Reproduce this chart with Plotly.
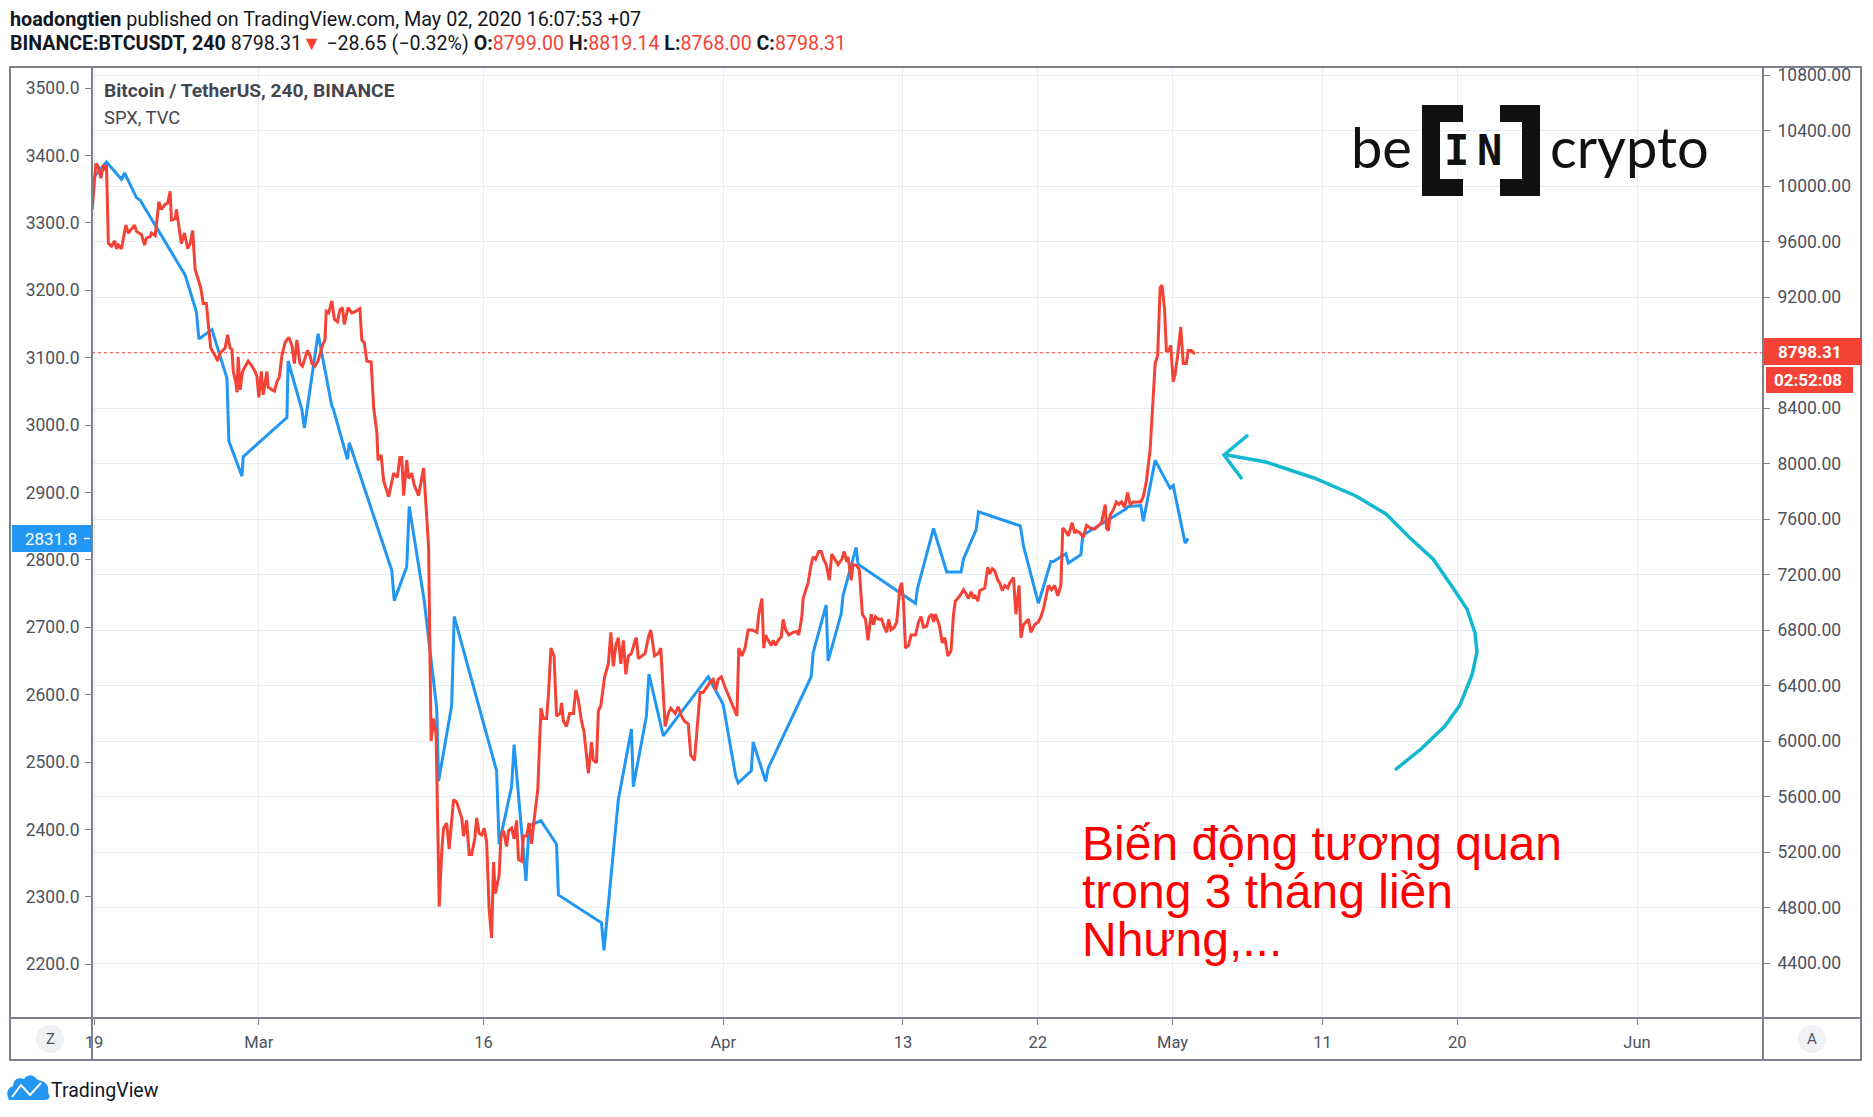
import plotly.graph_objects as go

W, H = 1873, 1117
ML, MR, MT, MB = 92, 110, 67, 99
PW, PH = W - ML - MR, H - MT - MB

# ---------------- data ----------------
btc_t = ["02-18 21", "02-19 03", "02-19 07", "02-19 11", "02-19 15", "02-19 18", "02-19 20", "02-19 23",
         "02-20 04", "02-20 09", "02-20 12", "02-20 15", "02-20 20", "02-21 03", "02-21 07", "02-21 17",
         "02-21 20", "02-22 04", "02-22 09", "02-22 12", "02-22 18", "02-22 20", "02-23 02", "02-23 08",
         "02-23 12", "02-23 18", "02-23 22", "02-24 02", "02-24 04", "02-24 10", "02-24 12", "02-24 20",
         "02-25 01", "02-25 06", "02-25 10", "02-25 14", "02-25 18", "02-25 23", "02-26 03", "02-26 07",
         "02-26 12", "02-26 16", "02-26 19", "02-27 02", "02-27 06", "02-27 10", "02-27 15", "02-27 18",
         "02-27 22", "02-28 02", "02-28 05", "02-28 07", "02-28 11", "02-28 13", "02-28 15", "02-28 18",
         "02-28 22", "02-29 02", "02-29 07", "02-29 13", "02-29 18", "02-29 21", "03-01 00", "03-01 04",
         "03-01 07", "03-01 13", "03-01 15", "03-01 21", "03-02 01", "03-02 05", "03-02 09", "03-02 13",
         "03-02 18", "03-03 00", "03-03 05", "03-03 09", "03-03 13", "03-03 18", "03-03 22", "03-04 06",
         "03-04 10", "03-04 13", "03-04 18", "03-04 23", "03-05 06", "03-05 10", "03-05 12", "03-05 16",
         "03-05 21", "03-06 01", "03-06 06", "03-06 10", "03-06 14", "03-06 17", "03-06 23", "03-07 05",
         "03-07 11", "03-07 18", "03-07 21", "03-08 01", "03-08 05", "03-08 12", "03-08 16", "03-08 21",
         "03-08 23", "03-09 04", "03-09 08", "03-09 16", "03-10 00", "03-10 06", "03-10 10", "03-10 13",
         "03-10 16", "03-10 21", "03-11 00", "03-11 05", "03-11 09", "03-11 16", "03-12 00", "03-12 08",
         "03-12 12", "03-12 16", "03-12 20", "03-13 01", "03-13 05", "03-13 08", "03-13 13", "03-13 17",
         "03-14 00", "03-14 05", "03-14 13", "03-14 16", "03-14 21", "03-15 01", "03-15 05", "03-15 10",
         "03-15 13", "03-15 17", "03-15 21", "03-16 01", "03-16 05", "03-16 09", "03-16 13", "03-16 16",
         "03-16 19", "03-17 01", "03-17 04", "03-17 08", "03-17 13", "03-17 16", "03-17 21", "03-18 01",
         "03-18 05", "03-18 08", "03-18 13", "03-18 16", "03-18 21", "03-19 01", "03-19 05", "03-19 09",
         "03-19 15", "03-19 20", "03-20 00", "03-20 05", "03-20 08", "03-20 12", "03-20 17", "03-20 21",
         "03-21 03", "03-21 05", "03-21 08", "03-21 13", "03-21 18", "03-22 00", "03-22 04", "03-22 08",
         "03-22 13", "03-22 17", "03-22 21", "03-23 00", "03-23 05", "03-23 08", "03-23 13", "03-23 16",
         "03-23 20", "03-24 02", "03-24 08", "03-24 12", "03-24 16", "03-24 20", "03-25 00", "03-25 04",
         "03-25 08", "03-25 12", "03-25 16", "03-25 21", "03-26 03", "03-26 05", "03-26 08", "03-26 13",
         "03-26 19", "03-27 00", "03-27 04", "03-27 10", "03-27 16", "03-27 20", "03-28 03", "03-28 08",
         "03-28 12", "03-28 19", "03-29 00", "03-29 05", "03-29 10", "03-29 16", "03-29 20", "03-30 02",
         "03-30 05", "03-30 11", "03-30 16", "03-30 21", "03-31 03", "03-31 08", "03-31 12", "03-31 16",
         "03-31 21", "04-01 03", "04-01 08", "04-01 14", "04-01 18", "04-01 22", "04-02 01", "04-02 06",
         "04-02 11", "04-02 16", "04-02 23", "04-03 06", "04-03 09", "04-03 14", "04-03 17", "04-03 20",
         "04-04 00", "04-04 05", "04-04 08", "04-04 12", "04-04 16", "04-04 21", "04-05 00", "04-05 04",
         "04-05 09", "04-05 16", "04-05 22", "04-06 01", "04-06 06", "04-06 08", "04-06 12", "04-06 16",
         "04-06 21", "04-07 00", "04-07 04", "04-07 09", "04-07 13", "04-07 17", "04-07 21", "04-08 02",
         "04-08 06", "04-08 11", "04-08 16", "04-08 22", "04-09 02", "04-09 06", "04-09 08", "04-09 13",
         "04-09 16", "04-09 22", "04-10 02", "04-10 07", "04-10 12", "04-10 16", "04-10 21", "04-11 01",
         "04-11 04", "04-11 09", "04-11 14", "04-11 18", "04-11 22", "04-12 01", "04-12 05", "04-12 10",
         "04-12 14", "04-12 19", "04-12 22", "04-13 01", "04-13 04", "04-13 09", "04-13 13", "04-13 20",
         "04-14 01", "04-14 05", "04-14 09", "04-14 14", "04-14 18", "04-14 22", "04-15 01", "04-15 04",
         "04-15 10", "04-15 15", "04-15 19", "04-16 00", "04-16 05", "04-16 09", "04-16 12", "04-16 19",
         "04-17 01", "04-17 06", "04-17 09", "04-17 13", "04-17 17", "04-17 19", "04-18 00", "04-18 03",
         "04-18 11", "04-18 16", "04-18 19", "04-18 23", "04-19 03", "04-19 08", "04-19 11", "04-19 15",
         "04-19 19", "04-20 00", "04-20 03", "04-20 09", "04-20 13", "04-20 18", "04-20 21", "04-21 01",
         "04-21 09", "04-21 13", "04-21 19", "04-22 01", "04-22 05", "04-22 09", "04-22 14", "04-22 17",
         "04-22 22", "04-23 03", "04-23 08", "04-23 13", "04-23 16", "04-23 20", "04-24 01", "04-24 07",
         "04-24 11", "04-24 14", "04-24 20", "04-25 01", "04-25 06", "04-25 12", "04-25 19", "04-26 01",
         "04-26 06", "04-26 12", "04-26 14", "04-26 17", "04-26 20", "04-27 01", "04-27 06", "04-27 10",
         "04-27 14", "04-27 19", "04-28 00", "04-28 04", "04-28 09", "04-28 14", "04-28 21", "04-29 01",
         "04-29 06", "04-29 12", "04-29 16", "04-29 20", "04-30 00", "04-30 04", "04-30 07", "04-30 11",
         "04-30 14", "04-30 18", "04-30 21", "05-01 01", "05-01 04", "05-01 08", "05-01 13", "05-01 17",
         "05-01 22", "05-02 01", "05-02 06", "05-02 10", "05-02 12"]
btc_close = [9831, 10162, 10139, 10056, 10151, 10113, 10151, 9586,
             9567, 9605, 9548, 9575, 9548, 9718, 9661, 9718,
             9673, 9650, 9575, 9624, 9635, 9661, 9643, 9887,
             9831, 9868, 9876, 9962, 9755, 9763, 9831, 9586,
             9661, 9548, 9586, 9680, 9398, 9323, 9266, 9153,
             9153, 8965, 8833, 8777, 8739, 8796, 8815, 8833,
             8928, 8833, 8822, 8664, 8589, 8514, 8769, 8532,
             8664, 8694, 8739, 8702, 8664, 8627, 8476, 8664,
             8495, 8664, 8551, 8532, 8521, 8589, 8627, 8777,
             8871, 8909, 8852, 8721, 8890, 8721, 8702, 8815,
             8777, 8721, 8702, 8739, 8852, 8890, 9097, 9086,
             9172, 9040, 9022, 9108, 9123, 9003, 9123, 9086,
             9097, 9116, 8890, 8871, 8739, 8732, 8401, 8231,
             8024, 8062, 7874, 7761, 7930, 7900, 8043, 8043,
             7769, 8024, 7893, 7930, 7844, 7769, 7968, 7404,
             6000, 6162, 6049, 4807, 5202, 5372, 5409, 5221,
             5578, 5560, 5447, 5315, 5428, 5183, 5183, 5296,
             5447, 5334, 5323, 5372, 5277, 4788, 4581, 5127,
             4901, 5033, 5315, 5353, 5240, 5353, 5372, 5296,
             5428, 5146, 5134, 5315, 5315, 5409, 5259, 5428,
             5654, 6237, 6162, 6162, 6331, 6670, 6613, 6181,
             6199, 6275, 6143, 6105, 6199, 6199, 6369, 6293,
             6143, 6068, 5917, 5767, 5992, 5861, 5842, 6218,
             6256, 6463, 6557, 6783, 6538, 6689, 6745, 6557,
             6726, 6481, 6613, 6632, 6726, 6745, 6594, 6613,
             6632, 6745, 6801, 6613, 6632, 6670, 6105, 6199,
             6237, 6199, 6248, 6181, 6143, 6124, 5898, 5861,
             6011, 6350, 6350, 6388, 6425, 6444, 6369, 6444,
             6463, 6388, 6331, 6275, 6218, 6181, 6670, 6613,
             6670, 6801, 6801, 6783, 6914, 7027, 6670, 6764,
             6726, 6689, 6726, 6689, 6726, 6753, 6877, 6801,
             6764, 6783, 6790, 6764, 6896, 7027, 7084, 7140,
             7272, 7328, 7310, 7366, 7366, 7310, 7272, 7159,
             7347, 7310, 7272, 7310, 7366, 7291, 7328, 7159,
             7272, 7264, 7234, 6914, 6877, 6726, 6914, 6839,
             6896, 6877, 6877, 6820, 6783, 6877, 6801, 6820,
             6858, 7103, 7140, 6990, 6670, 6689, 6764, 6764,
             6858, 6896, 6820, 6828, 6896, 6914, 6858, 6914,
             6839, 6707, 6745, 6613, 6651, 6914, 7008, 7046,
             7091, 7054, 7027, 7076, 7027, 7054, 7008, 7084,
             7103, 7253, 7204, 7242, 7227, 7159, 7140, 7084,
             7121, 7103, 7140, 7178, 6914, 7121, 6745, 6839,
             6877, 6783, 6839, 6858, 6896, 6952, 7046, 7121,
             7091, 7121, 7046, 7121, 7535, 7516, 7479, 7573,
             7498, 7516, 7498, 7467, 7554, 7535, 7528, 7554,
             7573, 7705, 7535, 7516, 7629, 7667, 7723, 7705,
             7723, 7686, 7791, 7705, 7723, 7723, 7723, 7761,
             7874, 8100, 8401, 8721, 8777, 9266, 9285, 9116,
             8815, 8815, 8852, 8589, 8645, 8777, 8984, 8721,
             8721, 8815, 8815, 8796, 8798.31]

spx_t = ["02-18 21", "02-19 20", "02-20 20", "02-21 01", "02-21 20", "02-22 02", "02-24 23", "02-25 02",
         "02-25 20", "02-26 00", "02-26 21", "02-27 21", "02-28 00", "02-28 21", "02-28 23", "03-02 21",
         "03-02 23", "03-03 21", "03-04 01", "03-04 23", "03-05 21", "03-05 23", "03-06 22", "03-07 01",
         "03-09 21", "03-10 01", "03-10 21", "03-11 01", "03-12 01", "03-12 21", "03-13 00", "03-13 21",
         "03-14 01", "03-16 21", "03-17 01", "03-17 21", "03-18 01", "03-18 20", "03-19 01", "03-19 20",
         "03-20 21", "03-21 00", "03-23 21", "03-24 01", "03-25 00", "03-25 21", "03-26 00", "03-26 21",
         "03-27 01", "03-28 00", "03-31 00", "04-01 00", "04-01 20", "04-02 00", "04-02 21", "04-03 00",
         "04-03 20", "04-04 00", "04-06 21", "04-07 00", "04-07 21", "04-08 00", "04-08 21", "04-09 00",
         "04-09 21", "04-10 00", "04-13 20", "04-13 23", "04-15 01", "04-15 22", "04-16 21", "04-17 01",
         "04-17 21", "04-18 01", "04-20 20", "04-21 01", "04-22 01", "04-22 21", "04-23 01", "04-23 21",
         "04-24 01", "04-24 21", "04-25 00", "04-27 21", "04-28 01", "04-28 21", "04-29 01", "04-29 20",
         "04-30 20", "05-01 01", "05-01 20", "05-02 01"]
spx_close = [3364.6, 3390.2, 3364.6, 3373.9, 3337.4, 3333.5, 3227.1, 3222.4,
             3168.1, 3127.7, 3141.6, 3069.4, 2976.2, 2924.1, 2952.9, 3011.1,
             3095.0, 3022.8, 2995.6, 3135.4, 3028.2, 3025.1, 2949.0, 2973.8,
             2784.3, 2739.3, 2789.7, 2879.1, 2739.3, 2580.0, 2471.3, 2583.9,
             2716.0, 2486.8, 2378.1, 2463.5, 2525.7, 2323.7, 2405.3, 2413.0,
             2378.1, 2302.7, 2261.5, 2220.4, 2444.1, 2549.0, 2463.5, 2568.4,
             2630.6, 2538.9, 2626.6, 2585.4, 2479.0, 2468.9, 2486.8, 2529.5,
             2471.3, 2490.7, 2626.6, 2661.6, 2733.0, 2650.0, 2719.9, 2747.0,
             2818.5, 2793.6, 2735.4, 2756.4, 2846.5, 2782.0, 2782.0, 2801.4,
             2844.1, 2871.3, 2850.3, 2820.8, 2735.4, 2797.5, 2797.5, 2809.2,
             2795.2, 2807.6, 2836.4, 2875.2, 2879.1, 2880.6, 2857.3, 2947.5,
             2906.3, 2910.2, 2824.7, 2831.8]

x_tick_dates = ["2020-02-19", "2020-03-01", "2020-03-16", "2020-04-01", "2020-04-13",
                "2020-04-22", "2020-05-01", "2020-05-11", "2020-05-20", "2020-06-01"]
x_tick_text = ["19", "Mar", "16", "Apr", "13", "22", "May", "11", "20", "Jun"]
spx_ticks = [2200, 2300, 2400, 2500, 2600, 2700, 2800, 2900, 3000, 3100, 3200, 3300, 3400, 3500]
btc_ticks = [4400, 4800, 5200, 5600, 6000, 6400, 6800, 7200, 7600, 8000, 8400, 8800, 9200,
             9600, 10000, 10400, 10800]
btc_last = 8798.31
spx_last = 2831.8
x_range = ["2020-02-18 20:46", "2020-06-09 09:50"]
spx_range = [2120.2, 3531.2]
btc_range = [4004, 10857.7]

RED = "#F44336"
BLUE = "#2196F3"
GRID = "#E6EDF3"
FRAME = "#7E818B"
TXT = "#4C525E"
FONT = "Roboto, Open Sans, sans-serif"


def full_time(ts):
    return ["2020-" + s + ":00" for s in ts]


def px(x):
    return (x - ML) / PW


def py(y):
    return (H - MB - y) / PH


def path(points, close=False):
    s = "M " + " L ".join(f"{px(a):.5f},{py(b):.5f}" for a, b in points)
    return s + (" Z" if close else "")


fig = go.Figure()
fig.add_trace(go.Scatter(x=full_time(spx_t), y=spx_close, mode="lines", yaxis="y",
                         line=dict(color=BLUE, width=3), hoverinfo="skip"))
fig.add_trace(go.Scatter(x=full_time(btc_t), y=btc_close, mode="lines", yaxis="y2",
                         line=dict(color=RED, width=3), hoverinfo="skip"))

axis_font = dict(family=FONT, size=17.5, color=TXT)
fig.update_layout(
    width=W, height=H, margin=dict(l=ML, r=MR, t=MT, b=MB),
    paper_bgcolor="white", plot_bgcolor="white", showlegend=False,
    xaxis=dict(type="date", range=x_range, tickvals=x_tick_dates, ticktext=x_tick_text,
               showgrid=True, gridcolor=GRID, gridwidth=1, zeroline=False, showline=False,
               ticks="outside", ticklen=6, tickcolor=FRAME,
               tickfont=dict(family=FONT, size=16.5, color=TXT),
               ticklabelstandoff=3, fixedrange=True),
    yaxis=dict(range=spx_range, tickvals=spx_ticks, ticktext=[f"{v:.1f}" for v in spx_ticks],
               showgrid=False, zeroline=False, showline=False, side="left",
               ticks="outside", ticklen=6, tickcolor=FRAME, tickfont=axis_font,
               ticklabelstandoff=2, fixedrange=True),
    yaxis2=dict(range=btc_range, tickvals=btc_ticks, ticktext=[f"{v:.2f}" for v in btc_ticks],
                overlaying="y", side="right", showgrid=True, gridcolor=GRID, gridwidth=1,
                zeroline=False, showline=False, ticks="outside", ticklen=6, tickcolor=FRAME,
                tickfont=axis_font, ticklabelstandoff=4, fixedrange=True),
)

shapes = []
# last-price dotted line
shapes.append(dict(type="line", xref="paper", yref="y2", x0=0, x1=1, y0=btc_last, y1=btc_last,
                   line=dict(color=RED, width=1, dash="dot"), layer="above"))
# frame
line_style = dict(color=FRAME, width=2)
shapes.append(dict(type="rect", xref="paper", yref="paper", x0=px(10), x1=px(1861), y0=py(1060), y1=py(67),
                   line=line_style, layer="above"))
for xx in (92, 1763):
    shapes.append(dict(type="line", xref="paper", yref="paper", x0=px(xx), x1=px(xx), y0=py(67), y1=py(1060),
                       line=line_style, layer="above"))
shapes.append(dict(type="line", xref="paper", yref="paper", x0=px(10), x1=px(1861), y0=py(1018), y1=py(1018),
                   line=line_style, layer="above"))
# price label boxes
shapes.append(dict(type="rect", xref="paper", yref="paper", x0=px(12), x1=px(91), y0=py(552), y1=py(525),
                   fillcolor=BLUE, line=dict(width=0), layer="above"))
shapes.append(dict(type="line", xref="paper", yref="paper", x0=px(84), x1=px(90), y0=py(538.5), y1=py(538.5),
                   line=dict(color="white", width=1.5), layer="above"))
shapes.append(dict(type="rect", xref="paper", yref="paper", x0=px(1764), x1=px(1862), y0=py(365), y1=py(338),
                   fillcolor=RED, line=dict(width=0), layer="above"))
shapes.append(dict(type="rect", xref="paper", yref="paper", x0=px(1766), x1=px(1853), y0=py(393), y1=py(367),
                   fillcolor=RED, line=dict(width=0), layer="above"))
# Z / A buttons
for cx in (50, 1812):
    shapes.append(dict(type="circle", xref="paper", yref="paper", x0=px(cx - 14), x1=px(cx + 14),
                       y0=py(1053), y1=py(1025), fillcolor="#EFF1F5", line=dict(width=0), layer="above"))
# beincrypto brackets
for x0, x1, y0, y1 in [(1422, 1440, 105, 196), (1422, 1463, 105, 122), (1422, 1463, 179, 196),
                       (1522, 1540, 105, 196), (1500, 1540, 105, 122), (1500, 1540, 179, 196)]:
    shapes.append(dict(type="rect", xref="paper", yref="paper", x0=px(x0), x1=px(x1), y0=py(y1), y1=py(y0),
                       fillcolor="#111111", line=dict(width=0), layer="above"))
# hand-drawn cyan arrow
arrow_curve = [(1227, 455), (1266, 462), (1314, 478), (1356, 496), (1386, 514), (1410, 538), (1433, 559),
               (1451, 585), (1467, 609), (1475, 633), (1477, 652), (1472, 675), (1460, 705), (1445, 726),
               (1421, 749), (1395, 770)]
shapes.append(dict(type="path", xref="paper", yref="paper", path=path(arrow_curve),
                   line=dict(color="#12B8CF", width=3.5), layer="above"))
shapes.append(dict(type="path", xref="paper", yref="paper",
                   path=path([(1248, 435), (1224, 455), (1242, 479)]),
                   line=dict(color="#12B8CF", width=3.5), layer="above"))
# TradingView cloud icon
cloud = "M {} Q {} {} Q {} {} Q {} {} Q {} {} Q {} {} Z".format(
    f"{px(9):.5f},{py(1100):.5f}",
    f"{px(4):.5f},{py(1090):.5f}", f"{px(13):.5f},{py(1086):.5f}",
    f"{px(14):.5f},{py(1076):.5f}", f"{px(24):.5f},{py(1079):.5f}",
    f"{px(30):.5f},{py(1071):.5f}", f"{px(38):.5f},{py(1080):.5f}",
    f"{px(50):.5f},{py(1082):.5f}", f"{px(48):.5f},{py(1092):.5f}",
    f"{px(52):.5f},{py(1100):.5f}", f"{px(45):.5f},{py(1100):.5f}")
shapes.append(dict(type="path", xref="paper", yref="paper", path=cloud, fillcolor=BLUE,
                   line=dict(width=0), layer="above"))
shapes.append(dict(type="path", xref="paper", yref="paper",
                   path=path([(12, 1097), (21, 1085), (30, 1095), (41, 1083)]),
                   line=dict(color="white", width=2), layer="above"))
fig.update_layout(shapes=shapes)

ann = []


def text(x, y, s, size, color="#131722", anchor="left", family=FONT, yanchor="middle"):
    ann.append(dict(x=px(x), y=py(y), xref="paper", yref="paper", text=s, showarrow=False,
                    xanchor=anchor, yanchor=yanchor, font=dict(family=family, size=size, color=color)))


text(8, 19, "<b>hoadongtien</b> published on TradingView.com, May 02, 2020 16:07:53 +07", 19.8)
r = f"<span style='color:{RED}'>"
text(8, 44, f"<b>BINANCE:BTCUSDT, 240</b> 8798.31{r}▼</span> −28.65 (−0.32%) "
            f"<b>O:</b>{r}8799.00</span> <b>H:</b>{r}8819.14</span> "
            f"<b>L:</b>{r}8768.00</span> <b>C:</b>{r}8798.31</span>", 19.6)
text(102, 91, "<b>Bitcoin / TetherUS, 240, BINANCE</b>", 19.2, "#434651")
text(102, 117, "SPX, TVC", 18.4, "#434651")
text(79, 538.5, f"{spx_last:.1f}", 17, "white", anchor="right")
text(1776, 351.5, f"<b>{btc_last:.2f}</b>", 17, "white")
text(1772, 380, "<b>02:52:08</b>", 17, "white")
text(50, 1039, "Z", 15, "#50535E", anchor="center")
text(1812, 1039, "A", 15, "#50535E", anchor="center")
text(49, 1090, "TradingView", 19.5, "#131722")
# beincrypto logo
text(1349, 146, "be", 56, "#111111", family="Lato, Open Sans, sans-serif")
text(1548, 146, "crypto", 56, "#111111", family="Lato, Open Sans, sans-serif")
text(1456, 150, "<b>I</b>", 42, "#111111", anchor="center", family="DejaVu Sans Mono, Liberation Mono, monospace")
text(1489, 150, "<b>N</b>", 42, "#111111", anchor="center", family="DejaVu Sans Mono, Liberation Mono, monospace")
# Vietnamese annotation
for yy, s in [(843, "Biến động tương quan"), (891, "trong 3 tháng liền"), (939, "Nhưng,...")]:
    text(1080, yy, s, 48, "#FF0000", family="Liberation Sans, Arial, sans-serif")

fig.update_layout(annotations=ann)
fig.write_html("out.html", config={"displayModeBar": False, "staticPlot": True},
               post_script="document.body.style.margin='0px';document.body.style.overflow='hidden';")
